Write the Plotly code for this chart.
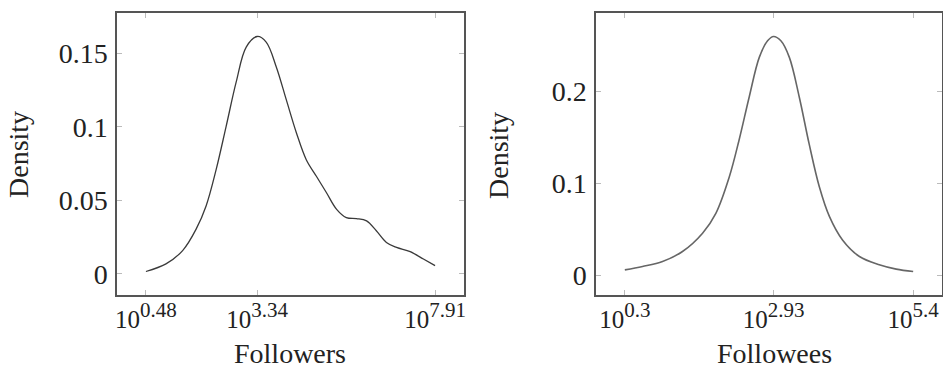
import plotly.graph_objects as go

# Followers density (x = log10 followers)
fol_x = [0.48, 0.995, 1.423, 1.77, 2.026, 2.284, 2.54, 2.80, 3.057, 3.34, 3.57, 3.83, 4.09,
         4.35, 4.60, 4.86, 5.12, 5.38, 5.63, 5.89, 6.15, 6.40, 6.66, 6.92, 7.27, 7.61, 7.91]
fol_y = [0.0016, 0.0068, 0.0158, 0.0304, 0.0462, 0.0709, 0.1002, 0.1306, 0.1543, 0.1615,
         0.1577, 0.1408, 0.1182, 0.0957, 0.0777, 0.0664, 0.0552, 0.0439, 0.0383, 0.0376,
         0.0360, 0.0293, 0.0214, 0.0180, 0.0151, 0.0101, 0.0056]
fol_ticks = [0.48, 3.34, 7.91]

# Followees density (x = log10 followees)
fee_x = [0.3, 0.613, 0.967, 1.32, 1.675, 1.91, 2.147, 2.32, 2.50, 2.678, 2.825, 2.93, 3.06,
         3.21, 3.385, 3.56, 3.74, 3.92, 4.15, 4.45, 4.80, 5.10, 5.40]
fee_y = [0.0061, 0.0098, 0.0152, 0.026, 0.0459, 0.0675, 0.107, 0.147, 0.194, 0.237, 0.255,
         0.2597, 0.255, 0.237, 0.194, 0.143, 0.0964, 0.0639, 0.0386, 0.0206, 0.0116, 0.0069,
         0.0043]
fee_ticks = [0.3, 2.93, 5.4]

left_yticks = [0, 0.05, 0.1, 0.15]
left_ylabels = ["0", "0.05", "0.1", "0.15"]
right_yticks = [0, 0.1, 0.2]
right_ylabels = ["0", "0.1", "0.2"]

FONT = "Liberation Serif"
FS = 28
XFS = 25
SUPFS = 21
TXT = "#222222"
W, H = 943, 369


def enlarge(lo, hi, f=0.1):
    d = (hi - lo) * f
    return [lo - d, hi + d]


def fmt_exp(v):
    s = ("%.2f" % v).rstrip("0").rstrip(".")
    return "10<sup><span style='font-size:%dpx'>%s</span></sup>" % (SUPFS, s)


fig = go.Figure()
fig.add_trace(go.Scatter(x=fol_x, y=fol_y, mode="lines",
                         line=dict(color="#3a3a3a", width=1.3, shape="spline", smoothing=1.0),
                         xaxis="x", yaxis="y", showlegend=False))
fig.add_trace(go.Scatter(x=fee_x, y=fee_y, mode="lines",
                         line=dict(color="#666666", width=1.6, shape="spline", smoothing=1.0),
                         xaxis="x2", yaxis="y2", showlegend=False))

common = dict(showgrid=False, zeroline=False, showline=True, linecolor="#555555", linewidth=1.5,
              mirror="all", ticks="inside", ticklen=5, tickcolor="#bbbbbb", tickwidth=1.2,
              automargin=False)
yfont = dict(family=FONT, size=FS, color=TXT)
xfont = dict(family=FONT, size=XFS, color=TXT)

ydom = [(H - 295) / H, (H - 13) / H]

fig.update_layout(
    width=W, height=H, margin=dict(l=0, r=0, t=0, b=0),
    paper_bgcolor="white", plot_bgcolor="white",
    font=dict(family=FONT, size=FS, color=TXT),
    xaxis=dict(domain=[117 / W, 464 / W], range=enlarge(min(fol_x), max(fol_x)),
               tickvals=fol_ticks, ticktext=[fmt_exp(v) for v in fol_ticks], ticklabelstandoff=1,
               tickfont=xfont, anchor="y", **common),
    yaxis=dict(domain=ydom, range=enlarge(min(fol_y), max(fol_y)),
               tickvals=left_yticks, ticktext=left_ylabels, ticklabelstandoff=2,
               tickfont=yfont, anchor="x", **common),
    xaxis2=dict(domain=[596 / W, 942 / W], range=enlarge(min(fee_x), max(fee_x)),
                tickvals=fee_ticks, ticktext=[fmt_exp(v) for v in fee_ticks], ticklabelstandoff=1,
                tickfont=xfont, anchor="y2", **common),
    yaxis2=dict(domain=ydom, range=enlarge(min(fee_y), max(fee_y)),
                tickvals=right_yticks, ticktext=right_ylabels, ticklabelstandoff=2,
                tickfont=yfont, anchor="x2", **common),
)

# axis titles placed at the reference positions
for text, xpx in (("Followers", 290), ("Followees", 774)):
    fig.add_annotation(text=text, x=xpx / W, y=0, xref="paper", yref="paper",
                       xanchor="center", yanchor="bottom", yshift=-2, showarrow=False,
                       font=dict(family=FONT, size=FS, color=TXT))
for xpx in (19, 499):
    fig.add_annotation(text="Density", x=xpx / W, y=(H - 155) / H, xref="paper", yref="paper",
                       xanchor="center", yanchor="middle", textangle=-90, showarrow=False,
                       font=dict(family=FONT, size=FS, color=TXT))

fig.write_html("out.html", config={"displayModeBar": False},
               post_script="document.body.style.margin='0';")
